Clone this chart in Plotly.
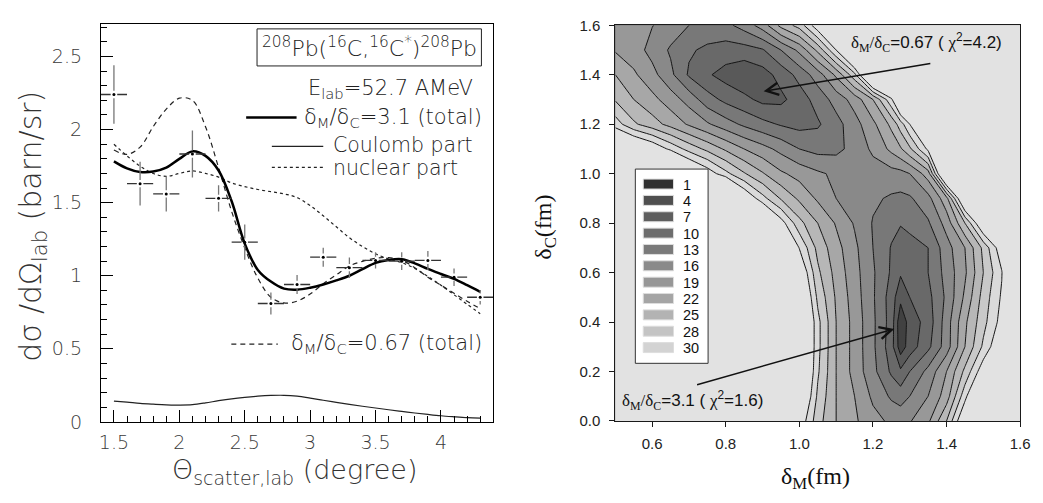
import numpy as np
import plotly.graph_objects as go

W, H = 1043, 503
def px(x): return x / W
def py(y): return 1 - y / H

# ---------------- left panel data ----------------
theta_curve = [1.5, 1.6, 1.7, 1.8, 1.9, 2.0, 2.1, 2.2, 2.3, 2.4, 2.5, 2.6, 2.7, 2.8, 2.9,
               3.0, 3.1, 3.2, 3.3, 3.4, 3.5, 3.6, 3.7, 3.8, 3.9, 4.0, 4.1, 4.2, 4.3]
total_31 = [1.783, 1.735, 1.71, 1.713, 1.74, 1.80, 1.851, 1.82, 1.72, 1.51, 1.22, 1.04, 0.96, 0.912, 0.905,
            0.918, 0.94, 0.968, 1.0, 1.045, 1.088, 1.108, 1.113, 1.085, 1.047, 1.012, 0.978, 0.935, 0.89]
total_067 = [1.86, 1.83, 1.88, 2.02, 2.14, 2.215, 2.20, 2.02, 1.74, 1.44, 1.19, 0.984, 0.853, 0.814, 0.826,
             0.875, 0.945, 1.006, 1.067, 1.098, 1.12, 1.124, 1.105, 1.055, 0.99, 0.935, 0.88, 0.825, 0.775]
nuclear = [1.90, 1.82, 1.75, 1.70, 1.68, 1.70, 1.717, 1.70, 1.675, 1.635, 1.61, 1.59, 1.575, 1.56, 1.535,
           1.48, 1.41, 1.335, 1.26, 1.20, 1.15, 1.115, 1.09, 1.05, 0.995, 0.935, 0.87, 0.805, 0.74]
coulomb = [0.142, 0.135, 0.127, 0.121, 0.116, 0.115, 0.118, 0.13, 0.145, 0.158, 0.168, 0.176, 0.181, 0.182, 0.176,
           0.163, 0.148, 0.134, 0.12, 0.107, 0.095, 0.083, 0.072, 0.061, 0.051, 0.042, 0.035, 0.029, 0.026]

theta_exp = [1.5, 1.7, 1.9, 2.1, 2.3, 2.5, 2.7, 2.9, 3.1, 3.3, 3.5, 3.7, 3.9, 4.1, 4.3]
sigma_exp = [2.24, 1.63, 1.56, 1.833, 1.53, 1.23, 0.81, 0.94, 1.127, 1.055, 1.105, 1.10, 1.105, 0.99, 0.853]
sigma_err = [0.2, 0.15, 0.12, 0.16, 0.09, 0.12, 0.075, 0.065, 0.065, 0.07, 0.055, 0.06, 0.065, 0.06, 0.05]
theta_bin_half = 0.1

left_xticks = [1.5, 2, 2.5, 3, 3.5, 4]
left_xticklabels = ["1.5", "2", "2.5", "3", "3.5", "4"]
left_yticks = [0, 0.5, 1, 1.5, 2, 2.5]
left_yticklabels = ["0", "0.5", "1", "1.5", "2", "2.5"]

# ---------------- right panel data (chi^2 map) ----------------
delta_M = [0.50, 0.55, 0.60, 0.65, 0.70, 0.75, 0.80, 0.85, 0.90, 0.95, 1.00, 1.05,
           1.10, 1.15, 1.20, 1.25, 1.275, 1.30, 1.35, 1.40, 1.45, 1.50, 1.55, 1.60]
delta_C = [0.0, 0.1, 0.2, 0.3, 0.4, 0.5, 0.6, 0.7, 0.8, 0.9, 1.0, 1.1, 1.2, 1.3, 1.4, 1.5, 1.6]
chi2 = [
    [40, 40, 40, 40, 40, 40, 40, 40, 40, 40, 31.7, 26.2, 22, 19.5, 17, 15.4, 15.1, 15.75, 18.4, 25, 32.7, 40, 40, 40],
    [40, 40, 40, 40, 40, 40, 40, 40, 40, 40, 34, 27.4, 22, 19, 15.4, 12.5, 11.6, 13, 16, 20.5, 29.3, 36, 40, 40],
    [40, 40, 40, 40, 40, 40, 40, 40, 40, 40, 35.4, 28.3, 22, 17.9, 13.9, 9.5, 7.6, 10, 13.9, 19, 25.75, 31.5, 40, 40],
    [40, 40, 40, 40, 40, 40, 40, 40, 40, 40, 35.7, 28.6, 22, 17.9, 13.6, 8.3, 2.3, 5.4, 9.25, 14.5, 22, 28.4, 32.4, 40],
    [40, 40, 40, 40, 40, 40, 40, 40, 40, 40, 35.7, 28.6, 22, 17.9, 13.6, 8.7, 1.8, 5.2, 8.3, 14.5, 21.4, 27, 30.85, 40],
    [40, 40, 40, 40, 40, 40, 40, 40, 40, 40, 34.4, 27.3, 21.6, 17.5, 13.4, 8.6, 4.8, 7, 9.1, 13.6, 19.6, 26.2, 30.3, 40],
    [40, 40, 40, 40, 40, 40, 40, 40, 40, 40, 32.6, 25.65, 20.9, 17.1, 13.4, 9.6, 7.4, 8.1, 10, 14.1, 18.5, 25, 29.85, 40],
    [40, 40, 40, 40, 40, 40, 40, 40, 40, 36, 29.9, 24.1, 20.1, 16.7, 13, 9.8, 8.6, 8.8, 10, 14.7, 19, 25.75, 31.5, 40],
    [40, 40, 40, 40, 40, 40, 40, 40, 36, 31, 26, 22, 18.7, 15.7, 12.8, 10.9, 10.2, 10.9, 12.6, 17.2, 25, 32.7, 40, 40],
    [40, 40, 40, 40, 40, 40, 40, 32.4, 28.7, 24.7, 21.4, 18.5, 16, 14.75, 13.5, 12.6, 12.3, 12.6, 15, 21, 34, 40, 40, 40],
    [40, 40, 40, 40, 34, 31.4, 28.6, 25.3, 22.3, 19.5, 17.9, 16.5, 15.4, 14.8, 14.6, 14.8, 15.0, 16, 20.5, 36, 40, 40, 40, 40],
    [36, 34, 32, 29.5, 26.9, 24.2, 21.5, 19, 17.1, 15.1, 13, 12, 12.2, 14, 16.6, 19.75, 21.6, 24.4, 30.5, 40, 40, 40, 40, 40],
    [29, 25.5, 23.3, 21, 18.6, 16.4, 14.3, 12.4, 10.9, 9.7, 9, 9.6, 11.9, 14.8, 18.25, 22.75, 26.5, 30, 38, 40, 40, 40, 40, 40],
    [24.7, 22, 19.9, 17.5, 14.8, 11.3, 9.2, 7.8, 6.2, 6.3, 8.5, 11.2, 14.2, 17.25, 22, 29.5, 35, 40, 40, 40, 40, 40, 40, 40],
    [22, 19.5, 17, 13.75, 9.6, 7.4, 5.8, 4.5, 5.7, 8.1, 11, 14.5, 19.6, 27, 37, 40, 40, 40, 40, 40, 40, 40, 40, 40],
    [18.7, 17.4, 15, 12.6, 10.4, 9.4, 8.7, 8.8, 9.7, 13, 16.75, 22.75, 30, 37, 40, 40, 40, 40, 40, 40, 40, 40, 40, 40],
    [17.5, 16.8, 16.1, 14.7, 13, 11.9, 12.2, 14.2, 17.4, 22.9, 26.2, 31.5, 40, 40, 40, 40, 40, 40, 40, 40, 40, 40, 40, 40],
]
chi2_levels = [1, 4, 7, 10, 13, 16, 19, 22, 25, 28, 30]
level_colors = ["#303030", "#4f4f4f", "#5e5e5e", "#6d6d6d", "#7a7a7a", "#8a8a8a",
                "#979797", "#a5a5a5", "#b3b3b3", "#c4c4c4", "#d3d3d3"]
outside_color = "#e2e2e2"
right_xticks = [0.6, 0.8, 1.0, 1.2, 1.4, 1.6]
right_yticks = [0.0, 0.2, 0.4, 0.6, 0.8, 1.0, 1.2, 1.4, 1.6]

# ---------------- figure ----------------
LF = "DejaVu Sans"
LW = 200
SANS = "Liberation Sans"
SERIF = "Liberation Serif"
INK = "#1a1a1a"

fig = go.Figure()

# left curves
fig.add_trace(go.Scatter(x=theta_curve, y=nuclear, mode="lines", line=dict(color="#222", width=1.2, dash="dot", shape="spline"), hoverinfo="skip"))
fig.add_trace(go.Scatter(x=theta_curve, y=total_067, mode="lines", line=dict(color="#222", width=1.2, dash="5px,4px", shape="spline"), hoverinfo="skip"))
fig.add_trace(go.Scatter(x=theta_curve, y=coulomb, mode="lines", line=dict(color="#222", width=1.2, shape="spline"), hoverinfo="skip"))
fig.add_trace(go.Scatter(x=theta_curve, y=total_31, mode="lines", line=dict(color="black", width=2.5, shape="spline"), hoverinfo="skip"))

# experimental points: broken crosses built from the data arrays
gx, gy = 0.025, 0.025
hx, hy, vx, vy = [], [], [], []
for t, s, e in zip(theta_exp, sigma_exp, sigma_err):
    hx += [t - theta_bin_half, t - gx, None, t + gx, t + theta_bin_half, None]
    hy += [s, s, None, s, s, None]
    vx += [t, t, None, t, t, None]
    vy += [s - e, s - gy, None, s + gy, s + e, None]
fig.add_trace(go.Scatter(x=hx, y=hy, mode="lines", line=dict(color="#333", width=1.3), hoverinfo="skip"))
fig.add_trace(go.Scatter(x=vx, y=vy, mode="lines", line=dict(color="#777", width=1.3), hoverinfo="skip"))
fig.add_trace(go.Scatter(x=theta_exp, y=sigma_exp, mode="markers", marker=dict(color="black", size=3), hoverinfo="skip"))

# right contour map
z = np.array(chi2, dtype=float)
idx_levels = np.arange(len(chi2_levels), dtype=float)
zi = np.interp(z, chi2_levels, idx_levels)
zi = np.where(z > chi2_levels[-1], idx_levels[-1] + (z - chi2_levels[-1]) / 2.0, zi)
zi = np.where(z < chi2_levels[0], (z - chi2_levels[0]) / 3.0, zi)
band_colors = [level_colors[0]] + level_colors[1:] + [outside_color]
ncol = len(band_colors) - 1
colorscale = [[k / ncol, c] for k, c in enumerate(band_colors)]
fig.add_trace(go.Contour(
    x=delta_M, y=delta_C, z=zi, xaxis="x2", yaxis="y2",
    contours=dict(start=0, end=10, size=1, coloring="fill", showlines=True),
    line=dict(color="#151515", width=1, smoothing=0),
    colorscale=colorscale, zmin=0, zmax=10, zauto=False, showscale=False, hoverinfo="skip"))

axis_common = dict(showgrid=False, zeroline=False, showline=True, mirror=True, ticklabeloverflow="allow")
fig.update_layout(
    width=W, height=H, margin=dict(l=0, r=0, t=0, b=0),
    paper_bgcolor="white", plot_bgcolor="white", showlegend=False,
    xaxis=dict(domain=[px(100), px(497)], range=[1.4, 4.4], tickvals=left_xticks, ticktext=left_xticklabels,
               ticks="inside", ticklen=12, tickwidth=1, tickcolor="black", linecolor="black", linewidth=1,
               minor=dict(dtick=0.1, tick0=0, ticks="inside", ticklen=6, tickcolor="black", tickwidth=1),
               tickfont=dict(family=LF, size=19, color="#3a3a3a", weight=LW), ticklabelstandoff=3, **axis_common),
    yaxis=dict(domain=[py(430), py(16)], range=[0, 2.72], tickvals=left_yticks, ticktext=left_yticklabels,
               ticks="inside", ticklen=12, tickwidth=1, tickcolor="black", linecolor="black", linewidth=1,
               minor=dict(dtick=0.1, tick0=0, ticks="inside", ticklen=6, tickcolor="black", tickwidth=1),
               tickfont=dict(family=LF, size=19, color="#3a3a3a", weight=LW), ticklabelstandoff=14, **axis_common),
    xaxis2=dict(domain=[px(620.5), px(1030)], range=[0.5, 1.6], tickvals=right_xticks,
                ticktext=["%.1f" % v for v in right_xticks], anchor="y2",
                ticks="outside", ticklen=5, tickcolor=INK, linecolor=INK, linewidth=1,
                tickfont=dict(family=SANS, size=15, color="#222"), ticklabelstandoff=4, **axis_common),
    yaxis2=dict(domain=[py(429), py(17)], range=[0, 1.6], tickvals=right_yticks,
                ticktext=["%.1f" % v for v in right_yticks], anchor="x2",
                ticks="outside", ticklen=5, tickcolor=INK, linecolor=INK, linewidth=1,
                tickfont=dict(family=SANS, size=15, color="#222"), ticklabelstandoff=6, **axis_common),
)

shapes = []
annos = []
def text(x, y, s, size, anchor="left", family=LF, color="#222", angle=0, weight=None):
    f = dict(family=family, size=size, color=color)
    if weight is not None:
        f["weight"] = weight
    annos.append(dict(x=px(x), y=py(y), xref="paper", yref="paper", text=s, showarrow=False,
                      xanchor=anchor, yanchor="middle", textangle=angle, font=f))

# left panel texts
shapes.append(dict(type="rect", xref="paper", yref="paper", x0=px(258), x1=px(485), y0=py(59.3), y1=py(20.7),
                   line=dict(color="#222", width=1), fillcolor="white"))
text(371.5, 40, "<sup>208</sup>Pb(<sup>16</sup>C,<sup>16</sup>C<sup>*</sup>)<sup>208</sup>Pb", 22, anchor="center", weight=LW)
text(478, 83, "E<sub>lab</sub>=52.7 AMeV", 21, anchor="right", weight=LW)
shapes.append(dict(type="line", xref="paper", yref="paper", x0=px(247), x1=px(298), y0=py(113), y1=py(113),
                   line=dict(color="black", width=2.5)))
text(303, 113, "δ<sub>M</sub>/δ<sub>C</sub>=3.1 (total)", 21, weight=LW)
shapes.append(dict(type="line", xref="paper", yref="paper", x0=px(273), x1=px(325), y0=py(143), y1=py(143),
                   line=dict(color="#222", width=1.2)))
text(333, 142, "Coulomb part", 20.5, weight=LW)
shapes.append(dict(type="line", xref="paper", yref="paper", x0=px(273), x1=px(325), y0=py(165), y1=py(165),
                   line=dict(color="#222", width=1.2, dash="dot")))
text(333, 166, "nuclear part", 20.5, weight=LW)
shapes.append(dict(type="line", xref="paper", yref="paper", x0=px(232), x1=px(279), y0=py(349), y1=py(349),
                   line=dict(color="#222", width=1.2, dash="5px,4px")))
text(290, 349, "δ<sub>M</sub>/δ<sub>C</sub>=0.67 (total)", 21, weight=LW)
text(30, 226, "dσ /dΩ<sub>lab</sub> (barn/sr)", 30, anchor="center", angle=-90, color="#333", weight=LW)
text(296, 482, "Θ<sub>scatter,lab</sub> (degree)", 27, anchor="center", color="#333", weight=LW)

# right panel legend box
shapes.append(dict(type="rect", xref="paper", yref="paper", x0=px(640.7), x1=px(714.3), y0=py(369), y1=py(166.7),
                   line=dict(color="#333", width=1), fillcolor="white"))
for i, (lv, col) in enumerate(zip(chi2_levels, level_colors)):
    yc = 182.3 + i * 17.03
    shapes.append(dict(type="rect", xref="paper", yref="paper", x0=px(648.7), x1=px(679.3),
                       y0=py(yc + 5.2), y1=py(yc - 5.2), line=dict(color="#dddddd", width=1), fillcolor=col))
    text(686.5, yc + 0.5, str(lv), 14.5, family=SANS, color="#111")

# right panel axis titles
text(549, 227, "δ<sub>C</sub>(fm)", 24, anchor="center", family=SERIF, color="#111", angle=-90)
text(823, 488, "δ<sub>M</sub>(fm)", 24, anchor="center", family=SERIF, color="#111")

# right panel annotations
dl = "<span style='font-family:Liberation Serif'>δ<sub>M</sub>/δ<sub>C</sub></span>"
chi = "<span style='font-family:Liberation Serif'>χ</span>"
text(857, 35, dl + "=0.67 ( " + chi + "<sup>2</sup>=4.2)", 17, family=SANS, color="#111")
text(625, 408, dl + "=3.1 ( " + chi + "<sup>2</sup>=1.6)", 17, family=SANS, color="#111")
annos.append(dict(x=0.903, y=1.333, xref="x2", yref="y2", ax=1.36, ay=1.447, axref="x2", ayref="y2",
                  text="", showarrow=True, arrowhead=5, arrowsize=1.6, arrowwidth=1.5, arrowcolor="#111"))
annos.append(dict(x=1.258, y=0.372, xref="x2", yref="y2", ax=0.718, ay=0.145, axref="x2", ayref="y2",
                  text="", showarrow=True, arrowhead=5, arrowsize=1.6, arrowwidth=1.5, arrowcolor="#111"))

fig.update_layout(shapes=shapes, annotations=annos)
fig.write_html("out.html", config={"displayModeBar": False, "staticPlot": True},
               post_script="document.body.style.margin='0';document.body.style.overflow='hidden';")
